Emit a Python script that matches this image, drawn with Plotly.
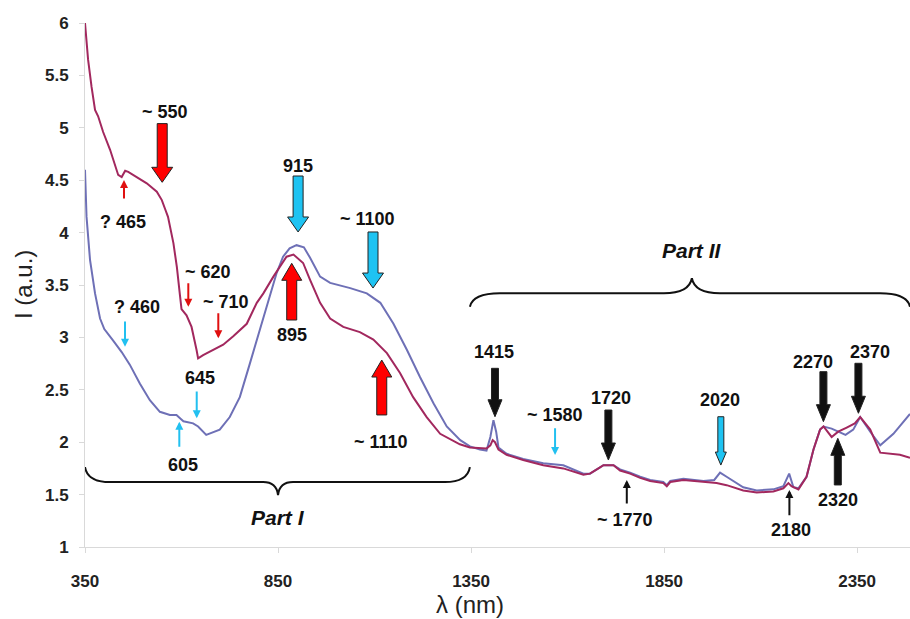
import plotly.graph_objects as go

# ---- spectra: wavelength (nm) and intensity (a.u.) ----
wl_red = [350, 354, 358, 367, 376, 384, 397, 415, 428, 436, 445, 454, 462, 484, 510,
          536, 549, 557, 565, 579, 588, 596, 600, 613, 626, 639, 643, 656, 682, 708,
          734, 769, 795, 812, 838, 855, 872, 890, 915, 933, 959, 985, 1019, 1062,
          1097, 1132, 1166, 1200, 1235, 1270, 1296, 1321, 1347, 1373, 1390, 1400,
          1406, 1412, 1421, 1442, 1485, 1537, 1589, 1641, 1658, 1680, 1693, 1719,
          1736, 1762, 1788, 1814, 1848, 1857, 1866, 1900, 1952, 1986, 2012, 2055,
          2090, 2133, 2159, 2172, 2180, 2198, 2219, 2237, 2254, 2263, 2284, 2301,
          2323, 2344, 2358, 2384, 2410, 2435, 2461, 2487]
i_red = [6.00, 5.81, 5.65, 5.39, 5.17, 5.11, 4.96, 4.79, 4.63, 4.55, 4.53, 4.59, 4.58,
         4.53, 4.47, 4.39, 4.31, 4.23, 4.15, 3.90, 3.67, 3.40, 3.27, 3.21, 3.10, 2.88,
         2.80, 2.83, 2.88, 2.93, 3.01, 3.13, 3.33, 3.42, 3.58, 3.67, 3.77, 3.79, 3.71,
         3.55, 3.33, 3.18, 3.10, 3.05, 2.98, 2.85, 2.66, 2.43, 2.24, 2.08, 2.03, 1.98,
         1.95, 1.94, 1.94, 1.97, 2.02, 2.00, 1.93, 1.88, 1.83, 1.78, 1.75, 1.69, 1.70,
         1.75, 1.78, 1.78, 1.73, 1.70, 1.66, 1.63, 1.61, 1.58, 1.62, 1.64, 1.62, 1.61,
         1.59, 1.54, 1.52, 1.53, 1.56, 1.61, 1.58, 1.55, 1.67, 1.93, 2.12, 2.15, 2.05,
         2.10, 2.14, 2.18, 2.24, 2.12, 1.90, 1.89, 1.88, 1.85]

wl_blue = [350, 354, 363, 376, 389, 400, 423, 445, 466, 492, 518, 544, 570, 587, 599,
           605, 630, 643, 664, 680, 699, 725, 751, 777, 803, 829, 846, 863, 880, 898,
           917, 933, 959, 985, 1037, 1080, 1115, 1149, 1184, 1218, 1253, 1287, 1322,
           1347, 1373, 1390, 1400, 1408, 1415, 1421, 1442, 1485, 1537, 1589, 1641,
           1658, 1680, 1693, 1719, 1736, 1762, 1788, 1814, 1848, 1857, 1866, 1900,
           1952, 1980, 1995, 2012, 2055, 2090, 2133, 2159, 2174, 2185, 2198, 2219,
           2237, 2254, 2263, 2284, 2301, 2320, 2340, 2358, 2384, 2410, 2444, 2465, 2487]
i_blue = [4.60, 4.15, 3.74, 3.42, 3.18, 3.08, 2.97, 2.86, 2.74, 2.56, 2.40, 2.29, 2.26,
          2.26, 2.22, 2.20, 2.18, 2.15, 2.07, 2.09, 2.12, 2.24, 2.43, 2.75, 3.07, 3.39,
          3.61, 3.77, 3.85, 3.88, 3.86, 3.76, 3.58, 3.52, 3.47, 3.42, 3.33, 3.13, 2.88,
          2.62, 2.37, 2.15, 2.02, 1.96, 1.93, 1.92, 2.05, 2.21, 2.10, 1.95, 1.89, 1.84,
          1.80, 1.78, 1.70, 1.70, 1.75, 1.78, 1.78, 1.74, 1.71, 1.67, 1.64, 1.62, 1.59,
          1.63, 1.65, 1.63, 1.64, 1.71, 1.67, 1.57, 1.54, 1.55, 1.58, 1.70, 1.57, 1.56,
          1.67, 1.93, 2.12, 2.15, 2.13, 2.10, 2.07, 2.12, 2.24, 2.10, 1.97, 2.08, 2.17,
          2.27]

x_ticks = [350, 850, 1350, 1850, 2350]
y_ticks = [1, 1.5, 2, 2.5, 3, 3.5, 4, 4.5, 5, 5.5, 6]

# ---- geometry ----
W, H = 910, 619
M_L, M_R, M_T, M_B = 85, 0, 23, 72
X_RANGE = [350, 2487]
Y_RANGE = [1, 6]
NM_PER_PX = (X_RANGE[1] - X_RANGE[0]) / (W - M_L - M_R)
I_PER_PX = (Y_RANGE[1] - Y_RANGE[0]) / (H - M_T - M_B)

RED_LINE = "#A2285E"
BLUE_LINE = "#6E70B6"
RED = "#FF0000"
CYAN = "#1EC3F2"
BLACK = "#111111"
FONT = "Liberation Sans, Arial, sans-serif"

fig = go.Figure()
fig.add_trace(go.Scatter(x=wl_blue, y=i_blue, mode="lines",
                         line=dict(color=BLUE_LINE, width=2), hoverinfo="skip"))
fig.add_trace(go.Scatter(x=wl_red, y=i_red, mode="lines",
                         line=dict(color=RED_LINE, width=2), hoverinfo="skip"))

shapes = []
annotations = []


def block_arrow(x, tip, tail, fill, shaft=10, head=21, head_len=15, outline="#222222"):
    d = 1 if tail > tip else -1
    sw = shaft / 2 * NM_PER_PX
    hw = head / 2 * NM_PER_PX
    yb = tip + d * head_len * I_PER_PX
    pts = [(x, tip), (x + hw, yb), (x + sw, yb), (x + sw, tail),
           (x - sw, tail), (x - sw, yb), (x - hw, yb)]
    path = "M " + " L ".join(f"{px:.3f},{py:.4f}" for px, py in pts) + " Z"
    shapes.append(dict(type="path", xref="x", yref="y", path=path, fillcolor=fill,
                       line=dict(color=outline, width=1), layer="above"))


def thin_arrow(x, tip, tail, color):
    annotations.append(dict(x=x, y=tip, ax=x, ay=tail, xref="x", yref="y",
                            axref="x", ayref="y", text="", showarrow=True,
                            arrowhead=2, arrowsize=0.8, arrowwidth=2,
                            arrowcolor=color, standoff=0, startstandoff=0))


def label(text, x, y, size=18):
    annotations.append(dict(x=x, y=y, xref="x", yref="y", text=f"<b>{text}</b>",
                            showarrow=False, xanchor="center", yanchor="middle",
                            font=dict(family=FONT, size=size, color=BLACK)))


def brace(x0, x1, xm, y_tip, y_bar, y_cusp, curl_px, cusp_px):
    cx = curl_px * NM_PER_PX
    kx = cusp_px * NM_PER_PX
    path = (f"M {x0},{y_tip} Q {x0 + 0.1 * cx},{y_bar} {x0 + cx},{y_bar} "
            f"L {xm - kx},{y_bar} Q {xm - 0.1 * kx},{y_bar} {xm},{y_cusp} "
            f"Q {xm + 0.1 * kx},{y_bar} {xm + kx},{y_bar} "
            f"L {x1 - cx},{y_bar} Q {x1 - 0.1 * cx},{y_bar} {x1},{y_tip}")
    shapes.append(dict(type="path", xref="x", yref="y", path=path,
                       line=dict(color=BLACK, width=2), layer="above"))


# Part I (visible) and Part II (near-infrared) braces
brace(350, 1347, 850, 1.763, 1.620, 1.496, 25, 15)
brace(1347, 2487, 1922, 3.293, 3.421, 3.564, 30, 28)
annotations.append(dict(x=850, y=1.28, xref="x", yref="y", text="<b><i>Part I</i></b>",
                        showarrow=False, font=dict(family=FONT, size=21, color=BLACK)))
annotations.append(dict(x=1922, y=3.83, xref="x", yref="y", text="<b><i>Part II</i></b>",
                        showarrow=False, font=dict(family=FONT, size=21, color=BLACK)))

# broad bands (block arrows)
block_arrow(550, 4.48, 5.04, RED)
block_arrow(902, 4.006, 4.540, CYAN)
block_arrow(1096, 3.471, 4.006, CYAN)
block_arrow(885.5, 3.707, 3.166, RED, head=20, head_len=17)
block_arrow(1118.7, 2.784, 2.260, RED, head=20, head_len=17)
block_arrow(1412, 2.243, 2.705, BLACK, shaft=7, head=14, head_len=17)
block_arrow(1705.7, 1.830, 2.307, BLACK, shaft=7, head=14, head_len=17)
block_arrow(1997, 1.782, 2.243, CYAN, shaft=6, head=11, head_len=13)
block_arrow(2262.7, 2.196, 2.673, BLACK, shaft=7, head=14, head_len=17)
block_arrow(2353.4, 2.276, 2.753, BLACK, shaft=7, head=14, head_len=17)
block_arrow(2300, 2.037, 1.592, BLACK, shaft=7, head=14, head_len=17)

# weaker features (thin arrows)
THIN_RED = "#E01010"
THIN_CYAN = "#22C0F0"
thin_arrow(451, 4.502, 4.311, THIN_RED)
thin_arrow(617.6, 3.293, 3.532, THIN_RED)
thin_arrow(695.3, 2.991, 3.245, THIN_RED)
thin_arrow(453.6, 2.911, 3.166, THIN_CYAN)
thin_arrow(639.4, 2.228, 2.498, THIN_CYAN)
thin_arrow(594.3, 2.196, 1.942, THIN_CYAN)
thin_arrow(1567.6, 1.878, 2.148, THIN_CYAN)
thin_arrow(1753.4, 1.639, 1.401, BLACK)
thin_arrow(2174.6, 1.544, 1.289, BLACK)

# band positions
label("~ 550", 557, 5.15)
label("? 465", 448, 4.10)
label("915", 902, 4.635)
label("~ 1100", 1083, 4.13)
label("~ 620", 668, 3.62)
label("~ 710", 715, 3.34)
label("? 460", 485, 3.29)
label("645", 648, 2.61)
label("605", 604, 1.78)
label("895", 886, 3.02)
label("~ 1110", 1117, 2.005)
label("1415", 1410, 2.864)
label("~ 1580", 1568, 2.26)
label("1720", 1713, 2.419)
label("~ 1770", 1749, 1.258)
label("2020", 1995, 2.403)
label("2180", 2179, 1.162)
label("2270", 2236, 2.768)
label("2370", 2384, 2.864)
label("2320", 2301, 1.448)

# axis titles
annotations.append(dict(x=(470 - M_L) / (W - M_L - M_R), y=-0.11, xref="paper", yref="paper",
                        text="λ (nm)", showarrow=False, xanchor="center", yanchor="middle",
                        font=dict(family=FONT, size=24, color="#222222")))
annotations.append(dict(x=-62 / (W - M_L - M_R), y=0.5, xref="paper", yref="paper",
                        text="I (a.u.)", showarrow=False, textangle=-90,
                        xanchor="center", yanchor="middle",
                        font=dict(family=FONT, size=24, color="#222222")))

axis_common = dict(showgrid=False, zeroline=False, showline=True, linecolor="#D9D9D9",
                   linewidth=1, ticks="outside", ticklen=5, tickcolor="#D9D9D9",
                   tickfont=dict(family=FONT, size=17, color="#222222", weight="bold"))

fig.update_layout(
    width=W, height=H,
    margin=dict(l=M_L, r=M_R, t=M_T, b=M_B),
    paper_bgcolor="white", plot_bgcolor="white",
    showlegend=False,
    shapes=shapes,
    annotations=annotations,
    xaxis=dict(range=X_RANGE, tickvals=x_ticks, ticktext=[str(v) for v in x_ticks],
               ticklabelstandoff=14, **axis_common),
    yaxis=dict(range=Y_RANGE, tickvals=y_ticks, ticktext=[f"{v:g}" for v in y_ticks],
               ticklabelstandoff=7, **axis_common),
)

fig.write_html("out.html")
